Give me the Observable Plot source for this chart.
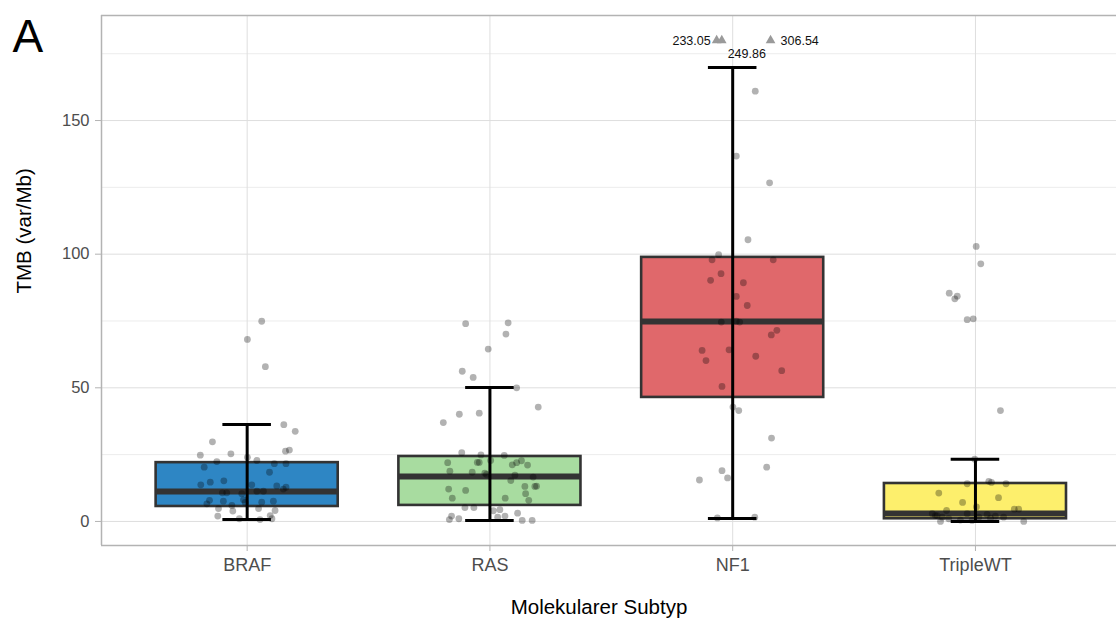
<!DOCTYPE html>
<html><head><meta charset="utf-8">
<script src="https://cdn.jsdelivr.net/npm/d3@7"></script>
<script src="https://cdn.jsdelivr.net/npm/@observablehq/plot@0.6"></script>
<style>
body{margin:0;background:#fff;}
svg{display:block;font-family:"Liberation Sans",Arial,sans-serif;}
</style>
</head><body><div id="chart"></div>
<script>
// ---- data ----
const categories = ["BRAF", "RAS", "NF1", "TripleWT"];
const boxColors = ["#2e86c4", "#a8dca0", "#e0686b", "#fdef6c"];
const whiskerLow = [0.7, 0.4, 1.1, 0.0];
const q1 = [5.6, 6.0, 46.4, 1.0];
const median = [11.2, 16.8, 74.8, 3.0];
const q3 = [22.0, 24.3, 98.8, 14.2];
const whiskerHigh = [36.3, 50.1, 169.8, 23.3];

const yTicks = [0, 50, 100, 150];
const yMinor = [25, 75, 125, 175];

// TMB values of individual samples and their horizontal jitter (category units)
const brafValues = [74.9,68.1,57.9,36.2,33.7,29.8,24.8,25.3,26.3,26.7,24.0,22.8,22.4,21.6,21.6,20.3,18.4,15.2,13.7,14.7,13.3,12.8,10.7,10.7,13.7,10.4,11.3,11.3,12.1,6.6,7.9,7.6,6.0,8.1,7.1,7.2,7.6,4.1,4.8,2.0,3.9,1.0,4.8,0.7,2.2,1.0];
const brafJitter = [0.060,0.001,0.075,0.151,0.198,-0.143,-0.193,-0.067,0.158,0.174,0.001,0.040,-0.125,0.112,0.160,-0.177,0.092,-0.096,-0.191,-0.152,0.122,0.160,-0.102,-0.084,0.019,-0.022,0.040,0.067,0.149,-0.166,-0.155,-0.098,-0.063,-0.015,-0.008,0.060,0.108,0.115,-0.118,-0.121,-0.059,-0.032,0.047,0.053,0.095,0.102];

const rasValues = [74.0,74.3,70.1,64.5,56.2,53.9,50.0,42.8,40.1,40.5,37.0,25.7,24.9,24.7,22.0,22.1,22.1,22.8,21.2,22.0,22.7,21.1,18.8,18.4,18.1,17.6,17.3,16.6,15.3,13.2,13.1,13.1,12.1,11.6,10.4,8.7,8.7,7.9,5.2,5.2,4.4,4.0,2.0,0.7,1.0,1.6,2.0,3.1,0.4,0.4];
const rasJitter = [-0.100,0.075,0.066,-0.007,-0.114,-0.069,0.110,0.199,-0.126,-0.044,-0.192,-0.116,-0.037,0.059,-0.174,-0.052,-0.044,0.003,0.092,0.110,0.130,0.155,-0.165,-0.073,-0.021,-0.014,0.103,0.178,0.086,0.192,0.185,0.144,-0.170,-0.100,0.147,-0.155,0.063,0.160,-0.103,-0.066,0.041,0.014,-0.158,-0.167,-0.128,0.032,0.062,0.114,0.133,0.174];

const nf1Values = [161.0,136.7,126.7,105.4,99.8,97.9,97.9,92.7,90.2,89.3,84.2,80.8,74.6,74.9,74.6,69.8,71.5,64.0,64.2,60.2,61.8,56.4,50.5,42.8,41.5,31.2,20.3,19.0,16.3,15.5,1.3,1.6];
const nf1Jitter = [0.093,0.015,0.152,0.063,-0.058,-0.085,0.167,-0.048,-0.091,0.044,0.015,0.060,-0.047,0.015,0.029,0.159,0.182,-0.126,-0.015,-0.110,0.095,0.202,-0.044,0.001,0.025,0.160,0.140,-0.044,-0.021,-0.137,-0.063,0.091];

const tripleValues = [102.9,96.4,85.4,84.3,83.3,75.5,75.8,41.5,23.3,14.1,15.0,14.6,14.1,10.6,8.9,7.1,4.1,5.4,4.6,4.6,2.2,1.6,0.0,2.9,1.6,2.6,2.0,1.6,0.0,1.0,0.4,2.9,2.2,0.5,1.2];
const tripleJitter = [0.003,0.022,-0.108,-0.075,-0.085,-0.034,-0.009,0.103,-0.003,-0.034,0.055,0.066,0.126,-0.151,0.095,-0.053,-0.119,0.004,0.160,0.178,-0.165,-0.137,-0.144,-0.034,0.014,0.048,0.082,0.116,0.199,-0.110,-0.014,-0.178,-0.158,-0.062,0.062];

// NF1 values beyond the axis (shown as triangles at the top with labels)
const outlierValues = [233.05, 249.86, 306.54];
const outlierJitter = [-0.066, -0.045, 0.156];
const outlierCap = 180;

// ---- tables ----
const boxes = categories.map((c, i) => ({
  x: i + 1, name: c, color: boxColors[i],
  lo: whiskerLow[i], q1: q1[i], med: median[i], q3: q3[i], hi: whiskerHigh[i]
}));
const groups = [[brafValues, brafJitter], [rasValues, rasJitter], [nf1Values, nf1Jitter], [tripleValues, tripleJitter]];
const points = groups.flatMap(([vals, jit], i) => vals.map((v, k) => ({x: i + 1 + jit[k], y: v})));
const outliers = outlierValues.map((v, k) => ({x: 3 + outlierJitter[k], y: outlierCap, label: v.toFixed(2)}));

const xDomain = [0.4, 4.581];
const yDomain = [-9, 189.3];
const boxHalf = 0.375, capHalf = 0.1;

const labelStyle = [
  {textAnchor: "end", dx: -6, dy: 1},
  {textAnchor: "middle", dx: 25, dy: 14},
  {textAnchor: "start", dx: 10, dy: 1}
];

const chart = Plot.plot({
  width: 1116, height: 619,
  marginLeft: 101, marginRight: 0, marginTop: 15, marginBottom: 74,
  style: {background: "#fff", fontFamily: "Liberation Sans, Arial, sans-serif"},
  x: {type: "linear", domain: xDomain, axis: null},
  y: {domain: yDomain, axis: null},
  color: {type: "identity"},
  marks: [
    Plot.gridY(yMinor, {stroke: "#ececec", strokeOpacity: 1, strokeWidth: 1}),
    Plot.gridY(yTicks, {stroke: "#dedede", strokeOpacity: 1, strokeWidth: 1}),
    Plot.gridX([1, 2, 3, 4], {stroke: "#dedede", strokeOpacity: 1, strokeWidth: 1}),
    Plot.ruleX([xDomain[0]], {stroke: "#b3b3b3", strokeWidth: 1.5}),
    Plot.ruleY(yDomain, {stroke: "#b3b3b3", strokeWidth: 1.5}),
    Plot.axisY({ticks: yTicks, tickSize: 6, tickPadding: 6, fontSize: 16.5, stroke: "#b3b3b3", fill: "#4d4d4d", label: null}),
    Plot.axisX({ticks: [1, 2, 3, 4], tickFormat: d => categories[d - 1], tickSize: 6, tickPadding: 7, fontSize: 18, stroke: "#b3b3b3", fill: "#4d4d4d", label: null}),
    Plot.rect(boxes, {x1: d => d.x - boxHalf, x2: d => d.x + boxHalf, y1: "q1", y2: "q3", fill: "color", stroke: "#333333", strokeWidth: 2.6}),
    Plot.ruleY(boxes, {y: "med", x1: d => d.x - boxHalf, x2: d => d.x + boxHalf, stroke: "#333333", strokeWidth: 6}),
    Plot.ruleX(boxes, {x: "x", y1: "lo", y2: "hi", stroke: "#000", strokeWidth: 3}),
    Plot.ruleY(boxes, {y: "lo", x1: d => d.x - capHalf, x2: d => d.x + capHalf, stroke: "#000", strokeWidth: 3}),
    Plot.ruleY(boxes, {y: "hi", x1: d => d.x - capHalf, x2: d => d.x + capHalf, stroke: "#000", strokeWidth: 3}),
    Plot.dot(points, {x: "x", y: "y", r: 3.4, fill: "#000", fillOpacity: 0.3, stroke: null}),
    Plot.dot(outliers, {x: "x", y: "y", r: 3.6, symbol: "triangle", fill: "#9a9a9a", stroke: null}),
    ...outliers.map((o, k) => Plot.text([o], {x: "x", y: "y", text: "label", fontSize: 12.5, fill: "#111", ...labelStyle[k]})),
    Plot.text(["A"], {frameAnchor: "top-left", dx: -89, dy: 36, lineAnchor: "bottom", textAnchor: "start", fontSize: 46, fill: "#000"}),
    Plot.text(["TMB (var/Mb)"], {frameAnchor: "left", dx: -77, dy: 13, rotate: -90, fontSize: 20.5, fill: "#000"}),
    Plot.text(["Molekularer Subtyp"], {frameAnchor: "bottom", dx: -10, dy: 68, lineAnchor: "bottom", fontSize: 20.5, fill: "#000"})
  ]
});
document.getElementById("chart").appendChild(chart);
</script>
</body></html>
